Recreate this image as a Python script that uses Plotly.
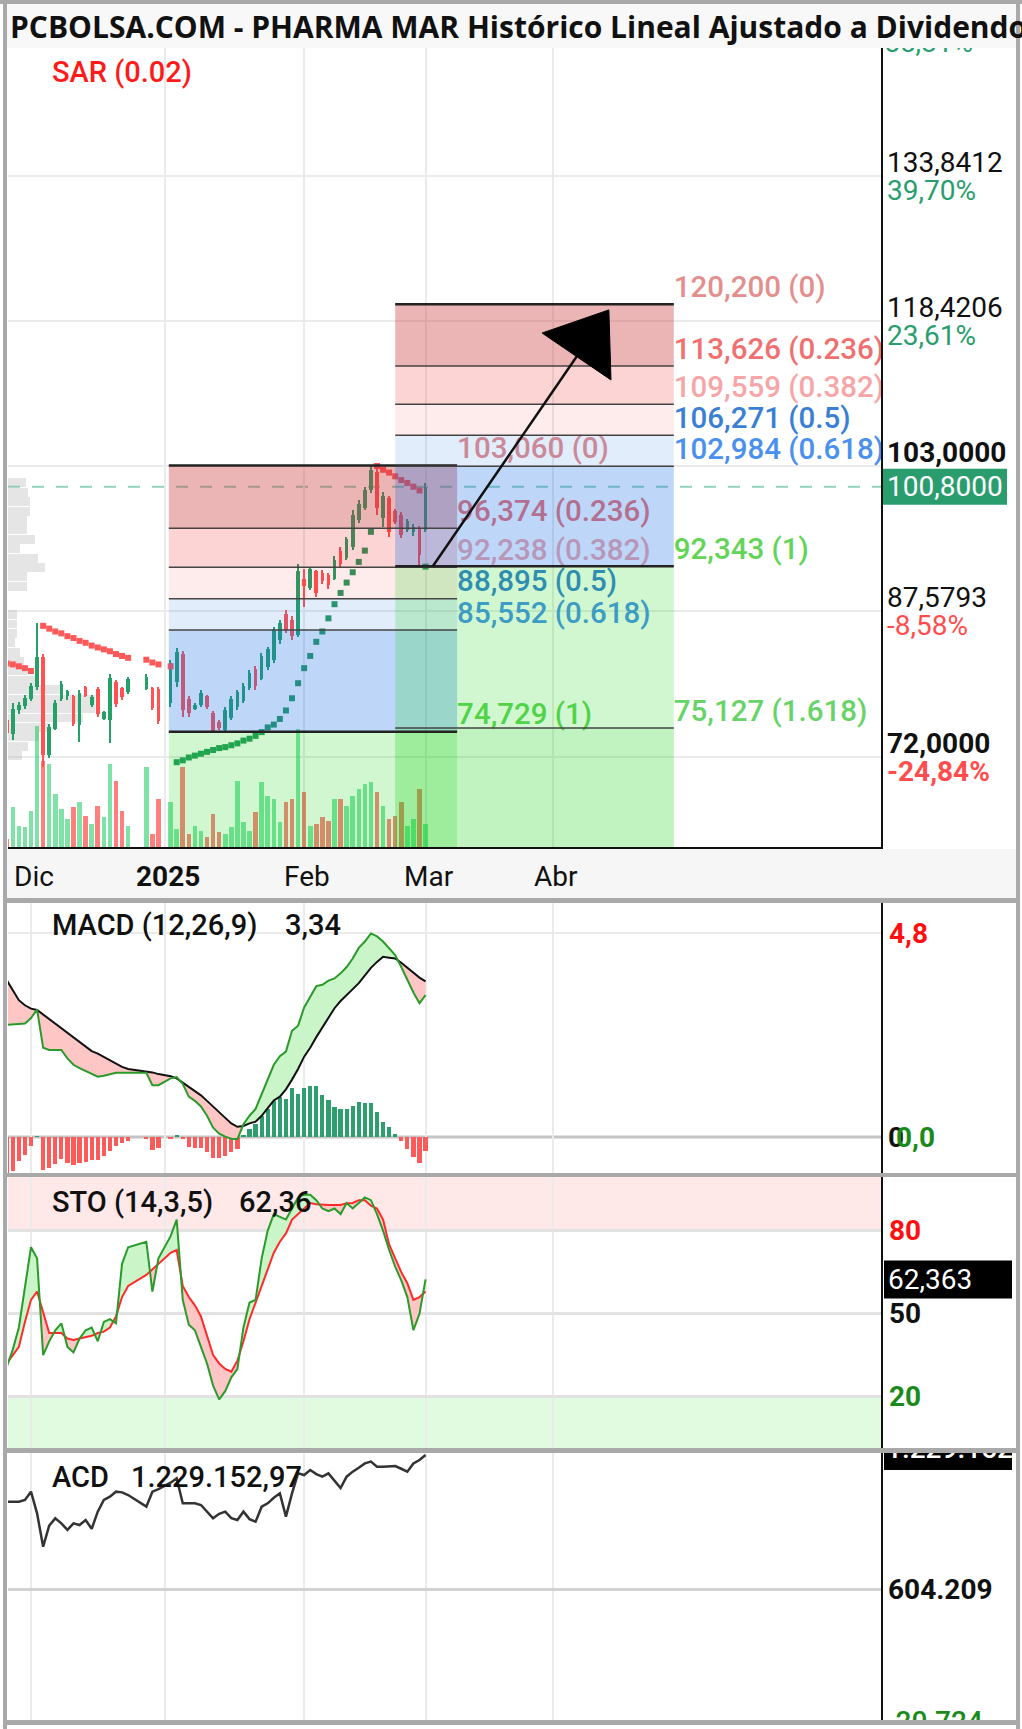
import plotly.graph_objects as go

W, H = 1022, 1729

TITLE = "PCBOLSA.COM - PHARMA MAR Histórico Lineal Ajustado a Dividendos"

# ------------------------------------------------------------------ data
# weekday slots, 0 = 2 Dec 2024 (17, 18, 22 = market holidays)
IDX = list(range(-4, 17)) + [19, 20, 21] + list(range(23, 66))

OPEN = [76.0, 74.5, 77.0, 77.5, 78.2, 79.5, 82.7, 72.3, 75.0, 78.2,
        78.5, 78.5, 75.5, 79.5, 77.6, 79.3, 76.1, 76.0, 80.0, 79.4,
        79.0, 79.3, 79.4, 79.3, 77.8, 80.0, 83.0, 78.2, 77.2, 77.6,
        78.5, 76.7, 75.8, 74.9, 76.2, 77.4, 78.0, 79.4, 81.4, 80.4,
        81.6, 82.4, 84.5, 87.3, 86.6, 85.0, 91.0, 90.0, 91.8, 91.6,
        91.4, 91.0, 94.0, 93.2, 94.4, 97.3, 98.5, 100.4, 102.4, 97.5,
        99.6, 98.2, 97.8, 96.2, 96.0, 96.4, 96.2]
HIGH = [76.2, 77.8, 77.9, 78.6, 79.9, 86.3, 83.0, 75.6, 78.1, 80.1,
        79.2, 78.6, 79.2, 79.6, 78.6, 79.5, 76.9, 80.9, 80.2, 79.5,
        80.6, 80.9, 79.5, 79.5, 82.4, 83.6, 83.3, 78.5, 77.8, 79.2,
        78.6, 76.9, 76.0, 77.4, 78.5, 79.2, 79.9, 81.3, 81.7, 83.1,
        83.8, 85.9, 86.6, 87.7, 87.0, 92.6, 92.0, 92.3, 91.9, 91.9,
        91.6, 93.4, 94.4, 95.5, 98.3, 99.4, 100.8, 103.06, 102.7, 100.2,
        99.8, 98.4, 98.1, 97.4, 96.8, 96.6, 101.2]
LOW = [74.2, 73.9, 76.6, 77.2, 78.0, 79.2, 71.0, 71.9, 74.9, 78.0,
       78.1, 75.3, 73.7, 78.4, 77.4, 76.3, 76.0, 73.5, 77.4, 78.1,
       78.8, 79.2, 77.0, 75.6, 77.4, 79.5, 76.3, 76.3, 77.0, 77.4,
       77.2, 74.729, 74.9, 74.8, 76.0, 77.1, 77.8, 79.2, 79.2, 80.2,
       81.3, 82.0, 84.1, 85.2, 84.5, 84.8, 88.0, 89.8, 89.1, 90.5,
       89.9, 90.9, 92.3, 93.0, 94.1, 96.9, 98.3, 100.1, 97.8, 96.5,
       95.5, 96.8, 95.3, 96.0, 95.6, 92.343, 96.0]
CLOSE = [74.6, 77.2, 77.6, 78.3, 79.6, 82.7, 72.3, 75.2, 77.8, 79.8,
         79.1, 75.6, 78.9, 78.5, 78.4, 76.6, 76.8, 80.5, 77.7, 78.4,
         80.4, 80.6, 77.3, 75.9, 82.0, 83.2, 77.0, 76.7, 77.6, 78.9,
         77.4, 74.8, 75.1, 77.1, 78.2, 79.0, 79.6, 81.0, 79.6, 82.8,
         83.5, 85.6, 86.3, 85.6, 84.9, 91.8, 90.2, 92.0, 89.5, 90.8,
         90.3, 93.0, 92.6, 95.2, 97.8, 99.0, 100.5, 102.6, 98.5, 99.8,
         96.0, 97.0, 95.7, 97.2, 96.5, 93.5, 100.8]
VOLUME_K = [100, 420, 230, 220, 380, 1230, 880, 850, 550, 400,
            300, 420, 470, 330, 250, 430, 320, 850, 680, 380,
            230, 820, 150, 500, 470, 200, 820, 150, 230, 180,
            120, 350, 170, 150, 220, 680, 270, 180, 370, 670,
            530, 500, 270, 470, 500, 1200, 570, 230, 250, 320,
            280, 500, 500, 430, 530, 600, 650, 670, 570, 430,
            300, 330, 470, 230, 300, 600, 250]
SAR = [82.0, 81.9, 81.7, 81.5, 81.2, None, 86.0, 85.7, 85.4, 85.2,
       84.9, 84.7, 84.4, 84.2, 83.9, 83.7, 83.5, 83.3, 83.0, 82.8,
       82.6, 82.4, 82.1, 81.9, 81.7, 71.5, 71.7, 72.0, 72.2, 72.4,
       72.6, 72.8, 73.0, 73.1, 73.3, 73.5, 73.8, 74.0, 74.3, 74.7,
       75.2, 75.5, 76.1, 77.0, 78.3, 79.9, 81.5, 82.8, 84.3, 85.4,
       86.8, 88.3, 89.5, 90.6, 91.7, 92.8, 94.0, 96.0, 103.0, 102.6,
       102.3, 101.9, 101.5, 101.2, 100.8, 100.4, 92.3]
MACD = [2.64, 2.65, 2.66, 2.67, 2.80, 3.00, 2.10, 2.05, 2.05, 2.05,
        1.85, 1.70, 1.62, 1.55, 1.48, 1.42, 1.44, 1.47, 1.51, 1.51,
        1.51, 1.51, 1.22, 1.22, 1.38, 1.41, 1.25, 0.95, 0.85, 0.72,
        0.50, 0.22, 0.08, 0.01, -0.04, -0.05, 0.30, 0.50, 0.66, 1.00,
        1.34, 1.70, 1.90, 2.01, 2.50, 2.62, 3.05, 3.30, 3.55, 3.58,
        3.68, 3.73, 3.85, 4.00, 4.20, 4.45, 4.60, 4.79, 4.72, 4.60,
        4.45, 4.28, 4.00, 3.70, 3.40, 3.15, 3.34]
SIGNAL = [3.69, 3.45, 3.22, 3.10, 3.02, 2.99, 2.88, 2.78, 2.68, 2.56,
          2.46, 2.35, 2.24, 2.13, 2.02, 1.96, 1.88, 1.80, 1.72, 1.65,
          1.60, 1.54, 1.52, 1.48, 1.43, 1.38, 1.28, 1.18, 1.10, 0.98,
          0.85, 0.71, 0.58, 0.45, 0.32, 0.24, 0.26, 0.32, 0.36, 0.50,
          0.68, 0.86, 0.95, 1.12, 1.35, 1.60, 1.89, 2.10, 2.35, 2.58,
          2.80, 3.03, 3.20, 3.35, 3.48, 3.62, 3.80, 3.98, 4.12, 4.24,
          4.22, 4.20, 4.10, 3.98, 3.86, 3.75, 3.66]
STO_K = [30.8, 37, 45, 60, 74, 70, 35, 40, 44, 46.5,
         38, 36, 41, 44, 45, 40, 47, 48, 46.5, 68,
         74, 76, 58, 70, 78, 84, 55, 46, 44, 38,
         32, 24, 19, 22, 27, 30, 45, 54, 55, 70,
         80, 86, 85, 84, 88, 92, 93, 93, 91, 88,
         87, 88, 86, 90, 88, 90, 92, 91, 86, 80,
         73, 67, 62, 56, 44, 50, 62.363]
STO_D = [32, 35, 38, 47, 55, 58, 50, 43, 43, 43,
         41, 40.5, 41, 41.5, 42, 43, 43.5, 45, 49, 56,
         60, 64, 66, 68, 72, 73, 60, 56, 53, 49,
         42, 35, 32, 30, 29, 33, 40, 48, 54, 60,
         66, 72, 76, 79, 84, 86, 88, 90, 89.5, 89.3,
         89.3, 89.3, 89.3, 89.9, 90, 91, 91, 89, 88, 84,
         75, 70, 65, 61, 55, 56, 58]
ACD = [1011500, 1011500, 1011500, 1019300, 1058200, 957100, 801600, 900000, 933800, 910500,
       880000, 910500, 902700, 926000, 885000, 964900, 1019300, 1035000, 1058200, 1055000,
       1042600, 988200, 1058200, 1070000, 1100000, 1120400, 1003800, 1003800, 1003800, 996000,
       965000, 933800, 955000, 964900, 935000, 926000, 964900, 930000, 918200, 988200,
       1003800, 1030000, 1050400, 941600, 1050000, 1143700, 1135900, 1159200, 1140000, 1128100,
       1143700, 1110000, 1075000, 1128100, 1151500, 1170000, 1190000, 1198100, 1174800, 1174800,
       1174800, 1177900, 1165000, 1151500, 1190000, 1205900, 1229152.97]

PROFILE_PRICE = [101.2, 100.2, 99.2, 98.2, 97.2, 96.2, 95.2, 94.2, 93.2, 92.2, 91.2, 90.2,
                 87.2, 86.2, 85.2, 84.2, 83.2, 82.2, 81.2, 80.2, 79.2, 78.2, 77.2, 76.2,
                 75.2, 74.2, 73.2, 72.2]
PROFILE_VOL = [18, 20, 22, 22, 19, 19, 27, 12, 30, 37, 19, 19,
               9, 9, 9, 7, 12, 16, 20, 31, 55, 87, 87, 75,
               40, 31, 20, 14]

TICK_IDX = [0, 22, 45, 65, 86]
TICK_TEXT = ["Dic", "2025", "Feb", "Mar", "Abr"]

PRICE_GRID = [72.0, 87.5793, 103.0, 118.4206, 133.8412, 149.2618]
PRICE_TXT = ["72,0000", "87,5793", "103,0000", "118,4206", "133,8412", None]
PCT_TXT = ["-24,84%", "-8,58%", None, "23,61%", "39,70%", "55,81%"]
LAST_PRICE = 100.80

FIB_A_LEVELS = [103.060, 96.374, 92.238, 88.895, 85.552, 74.729]
FIB_A_RATIOS = ["0", "0.236", "0.382", "0.5", "0.618", "1"]
FIB_A_SPAN = [22.7, 70.2]
FIB_B_LEVELS = [120.200, 113.626, 109.559, 106.271, 102.984, 92.343, 75.127]
FIB_B_RATIOS = ["0", "0.236", "0.382", "0.5", "0.618", "1", "1.618"]
FIB_B_SPAN = [60.0, 105.9]

ARROW_START = (66.2, 92.343)
ARROW_NECK = (89.9, 114.65)
ARROW_HEAD = [(95.2, 119.6), (84.2, 117.14), (95.55, 112.15)]

MACD_LAST, STO_LAST, ACD_LAST = "3,34", "62,36", "1.229.152,97"

# ------------------------------------------------------------------ geometry (px)
PLOT_L, PLOT_R, COL_R = 8, 882, 1016
IDX0_PX, PX_PER_IDX = 31.0, 6.07
X_RANGE = [(PLOT_L - IDX0_PX) / PX_PER_IDX, (PLOT_R - IDX0_PX) / PX_PER_IDX]

MAIN_T, MAIN_B = 48, 849
P_REF, P_REF_PX, PX_PER_P = 103.0, 466.0, 9.403
P_RANGE = [P_REF - (MAIN_B - P_REF_PX) / PX_PER_P, P_REF + (P_REF_PX - MAIN_T) / PX_PER_P]
P_BOT = P_RANGE[0]
VOL_PX_PER_K = 0.1

MACD_T, MACD_B = 903, 1173
M_ZERO_PX, PX_PER_M = 1137.0, 42.5
MACD_RANGE = [-(MACD_B - M_ZERO_PX) / PX_PER_M, (M_ZERO_PX - MACD_T) / PX_PER_M]

STO_T, STO_B = 1177, 1448
S_ZERO_PX, PX_PER_S = 1452.0, 2.767
STO_RANGE = [(S_ZERO_PX - STO_B) / PX_PER_S, (S_ZERO_PX - STO_T) / PX_PER_S]

ACD_T, ACD_B = 1453, 1720
A_REF, A_REF_PX, A_PER_PX = 604209.0, 1589.0, 4664.0
ACD_RANGE = [A_REF - (ACD_B - A_REF_PX) * A_PER_PX, A_REF + (A_REF_PX - ACD_T) * A_PER_PX]

FONT = "Roboto"
UP, DN = "#26a069", "#ff5252"
ROSE, PINK, LPINK = "rgba(200,50,50,0.36)", "rgba(240,0,0,0.17)", "rgba(240,0,0,0.08)"
LBLUE, BLUE = "rgba(20,110,230,0.12)", "rgba(20,110,230,0.28)"
GREEN, GREEN2 = "rgba(0,210,0,0.18)", "rgba(0,210,0,0.08)"
FIB_COL = {"0": "#e58e8e", "0.236": "#f07070", "0.382": "#f6a6a6", "0.5": "#3a7fd6",
           "0.618": "#4a90ee", "1": "#62d456", "1.618": "#66d466"}


def pxx(px):
    return px / W


def pxy(py):
    return 1 - py / H


def dom_y(top, bot):
    return [1 - bot / H, 1 - top / H]


def fmt(v, nd):
    return f"{v:.{nd}f}".replace(".", ",")


fig = go.Figure()

# ---------------- main price panel
fig.add_trace(go.Bar(orientation="h", y=PROFILE_PRICE, x=[v / PX_PER_IDX for v in PROFILE_VOL],
                     base=X_RANGE[0], width=0.95, marker=dict(color="rgba(170,170,170,0.30)", line_width=0),
                     xaxis="x", yaxis="y", hoverinfo="skip"))
up = [c >= o for o, c in zip(OPEN, CLOSE)]
fig.add_trace(go.Bar(x=IDX, y=[v * VOL_PX_PER_K / PX_PER_P for v in VOLUME_K], base=P_BOT, width=0.75,
                     marker=dict(color=["rgba(0,200,80,0.5)" if u else "rgba(255,0,0,0.5)" for u in up], line_width=0),
                     xaxis="x", yaxis="y", hoverinfo="skip"))
fig.add_trace(go.Bar(x=IDX, y=[h - l for h, l in zip(HIGH, LOW)], base=LOW, width=0.22,
                     marker=dict(color=[UP if u else DN for u in up], line_width=0), xaxis="x", yaxis="y",
                     hoverinfo="skip"))
fig.add_trace(go.Bar(x=IDX, y=[max(abs(c - o), 0.15) for o, c in zip(OPEN, CLOSE)],
                     base=[min(o, c) for o, c in zip(OPEN, CLOSE)], width=0.6,
                     marker=dict(color=[UP if u else DN for u in up], line_width=0), xaxis="x", yaxis="y",
                     hoverinfo="skip"))
fig.add_trace(go.Scatter(x=IDX, y=SAR, mode="markers", xaxis="x", yaxis="y", hoverinfo="skip",
                         marker=dict(symbol="square", size=6, line_width=0,
                                     color=["#2a9a60" if (s is not None and s < l) else "#ff5858"
                                            for s, l in zip(SAR, LOW)])))
for levels, ratios, span in ((FIB_A_LEVELS, FIB_A_RATIOS, FIB_A_SPAN), (FIB_B_LEVELS, FIB_B_RATIOS, FIB_B_SPAN)):
    fig.add_trace(go.Scatter(x=[span[1]] * len(levels), y=levels, mode="text",
                             text=[f"{fmt(v, 3)} ({r})" for v, r in zip(levels, ratios)],
                             textposition="top right", xaxis="x", yaxis="y", hoverinfo="skip",
                             textfont=dict(family=FONT, size=29.5, color=[FIB_COL[r] for r in ratios], weight=500)))


# ---------------- fill helper
def fill_between(xs, a, b, xa, ya, pos_col, neg_col):
    px_, py_, nx_, ny_ = [], [], [], []
    for k in range(len(xs) - 1):
        x0, x1 = xs[k], xs[k + 1]
        d0, d1 = a[k] - b[k], a[k + 1] - b[k + 1]
        if d0 * d1 < 0:
            t = d0 / (d0 - d1)
            xc = x0 + t * (x1 - x0)
            yc = a[k] + t * (a[k + 1] - a[k])
            tx, ty = (px_, py_) if d0 > 0 else (nx_, ny_)
            tx += [x0, xc, x0, x0, None]
            ty += [a[k], yc, b[k], a[k], None]
            tx, ty = (px_, py_) if d1 > 0 else (nx_, ny_)
            tx += [xc, x1, x1, xc, None]
            ty += [yc, a[k + 1], b[k + 1], yc, None]
        else:
            tx, ty = (px_, py_) if (d0 + d1) >= 0 else (nx_, ny_)
            tx += [x0, x1, x1, x0, x0, None]
            ty += [a[k], a[k + 1], b[k + 1], b[k], a[k], None]
    out = []
    for xx, yy, col in ((px_, py_, pos_col), (nx_, ny_, neg_col)):
        out.append(go.Scatter(x=xx, y=yy, mode="lines", fill="toself", fillcolor=col, line=dict(width=0),
                              xaxis=xa, yaxis=ya, hoverinfo="skip", connectgaps=False))
    return out


# ---------------- MACD
for tr in fill_between(IDX, MACD, SIGNAL, "x3", "y3", "#c9f5c9", "#ffc6c6"):
    fig.add_trace(tr)
hist = [m - s for m, s in zip(MACD, SIGNAL)]
fig.add_trace(go.Bar(x=IDX, y=hist, width=0.7, xaxis="x3", yaxis="y3", hoverinfo="skip",
                     marker=dict(color=["#2e9e6e" if h >= 0 else "#ff5a5a" for h in hist], line_width=0)))
fig.add_trace(go.Scatter(x=IDX, y=SIGNAL, mode="lines", line=dict(color="#111", width=2), xaxis="x3", yaxis="y3",
                         hoverinfo="skip"))
fig.add_trace(go.Scatter(x=IDX, y=MACD, mode="lines", line=dict(color="#2a9a2a", width=2), xaxis="x3", yaxis="y3",
                         hoverinfo="skip"))

# ---------------- STO
for tr in fill_between(IDX, STO_K, STO_D, "x4", "y4", "#c9f5c9", "#ffc6c6"):
    fig.add_trace(tr)
fig.add_trace(go.Scatter(x=IDX, y=STO_D, mode="lines", line=dict(color="#ff2a2a", width=2), xaxis="x4", yaxis="y4",
                         hoverinfo="skip"))
fig.add_trace(go.Scatter(x=IDX, y=STO_K, mode="lines", line=dict(color="#2a9a2a", width=2), xaxis="x4", yaxis="y4",
                         hoverinfo="skip"))

# ---------------- ACD
fig.add_trace(go.Scatter(x=IDX, y=ACD, mode="lines", line=dict(color="#333", width=2.5), xaxis="x5", yaxis="y5",
                         hoverinfo="skip"))

# ---------------- clipped right-column texts (pixel axes)
top_pct_px = P_REF_PX - (PRICE_GRID[-1] - P_REF) * PX_PER_P + 14
fig.add_trace(go.Scatter(x=[884], y=[top_pct_px], mode="text", text=[PCT_TXT[-1]], textposition="middle right",
                         textfont=dict(family=FONT, size=28, color="#2a9d6e"), xaxis="x6", yaxis="y6",
                         hoverinfo="skip"))
fig.add_trace(go.Scatter(x=[886, 886], y=[1451, 1724], mode="text", text=["1.229.152", "-20.724"],
                         textposition="middle right",
                         textfont=dict(family=FONT, size=28, color=["#ffffff", "#1a8a1a"], weight=500),
                         xaxis="x7", yaxis="y7", hoverinfo="skip"))

# ------------------------------------------------------------------ shapes
shapes = []


def prect(x0, y0, x1, y1, color, layer="above"):
    shapes.append(dict(type="rect", xref="paper", yref="paper", x0=pxx(x0), x1=pxx(x1), y0=pxy(y0), y1=pxy(y1),
                       fillcolor=color, line_width=0, layer=layer))


prect(5, 4, COL_R, MAIN_T, "#f8f8f8", "below")
prect(5, MAIN_B, COL_R, 898, "#f6f6f6", "below")

# STO bands and reference lines
shapes.append(dict(type="rect", xref="x4", yref="y4", x0=X_RANGE[0], x1=X_RANGE[1], y0=80, y1=STO_RANGE[1],
                   fillcolor="#ffe8e8", line_width=0, layer="below"))
shapes.append(dict(type="rect", xref="x4", yref="y4", x0=X_RANGE[0], x1=X_RANGE[1], y0=STO_RANGE[0], y1=20,
                   fillcolor="#e0fbe0", line_width=0, layer="below"))
shapes.append(dict(type="line", xref="x3", yref="y3", x0=X_RANGE[0], x1=X_RANGE[1], y0=0, y1=0,
                   line=dict(color="#c4c4c4", width=3), layer="below"))
# last price dashed line
shapes.append(dict(type="line", xref="x", yref="y", x0=X_RANGE[0], x1=X_RANGE[1], y0=LAST_PRICE, y1=LAST_PRICE,
                   line=dict(color="#92d1bb", width=2, dash="12px,12px"), layer="below"))


# Fibonacci boxes
def fib_box(levels, span, band_cols, below_cols):
    for k, col in enumerate(band_cols):
        shapes.append(dict(type="rect", xref="x", yref="y", x0=span[0], x1=span[1], y0=levels[k + 1], y1=levels[k],
                           fillcolor=col, line_width=0, layer="above"))
    for lvl, col in below_cols:
        shapes.append(dict(type="rect", xref="x", yref="y", x0=span[0], x1=span[1], y0=P_BOT, y1=lvl,
                           fillcolor=col, line_width=0, layer="above"))


fib_box(FIB_A_LEVELS, FIB_A_SPAN, [ROSE, PINK, LPINK, LBLUE, BLUE], [(FIB_A_LEVELS[-1], GREEN)])
fib_box(FIB_B_LEVELS, FIB_B_SPAN, [ROSE, PINK, LPINK, LBLUE, BLUE],
        [(FIB_B_LEVELS[5], GREEN), (FIB_B_LEVELS[6], GREEN2)])
for levels, ratios, span in ((FIB_A_LEVELS, FIB_A_RATIOS, FIB_A_SPAN), (FIB_B_LEVELS, FIB_B_RATIOS, FIB_B_SPAN)):
    for v, r in zip(levels, ratios):
        heavy = r in ("0", "1")
        shapes.append(dict(type="line", xref="x", yref="y", x0=span[0], x1=span[1], y0=v, y1=v,
                           line=dict(color="#222" if heavy else "#444", width=2.5 if heavy else 1.5),
                           layer="above"))
# arrow
shapes.append(dict(type="line", xref="x", yref="y", x0=ARROW_START[0], y0=ARROW_START[1], x1=ARROW_NECK[0],
                   y1=ARROW_NECK[1], line=dict(color="#111", width=2.5), layer="above"))
shapes.append(dict(type="path", xref="x", yref="y",
                   path="M {} {} L {} {} L {} {} Z".format(*[c for p in ARROW_HEAD for c in p]),
                   fillcolor="#000", line=dict(color="#000", width=1), layer="above"))

# value boxes
shapes.append(dict(type="rect", xref="paper", yref="y", x0=pxx(881), x1=pxx(1007), ysizemode="pixel",
                   yanchor=LAST_PRICE, y0=-18, y1=18, fillcolor="#2a9d6f", line_width=0, layer="above"))
shapes.append(dict(type="rect", xref="paper", yref="y4", x0=pxx(884), x1=pxx(1012), ysizemode="pixel",
                   yanchor=float(STO_K[-1]), y0=-19, y1=19, fillcolor="#000", line_width=0, layer="above"))
shapes.append(dict(type="rect", xref="x7", yref="y7", x0=884, x1=1012, y0=1432, y1=1470,
                   fillcolor="#000", line_width=0, layer="below"))

# axis lines
prect(PLOT_L, MAIN_B - 2, PLOT_R, MAIN_B, "#111")
for t, b in ((MAIN_T, MAIN_B), (MACD_T, MACD_B), (STO_T, STO_B), (ACD_T, ACD_B)):
    prect(PLOT_R - 1, t, PLOT_R + 1, b, "#111")
# frame and panel separators
prect(0, 0, W, 4, "#a9a9a9")
prect(3, 0, 7, H, "#a9a9a9")
prect(COL_R, 0, COL_R + 4, H, "#a9a9a9")
for t, b in ((898, 903), (1173, 1177), (1448, 1453), (1720, 1725)):
    prect(3, t, COL_R + 4, b, "#a9a9a9")

# ------------------------------------------------------------------ annotations
anns = []


def ann(text, x, y, size=28, color="#111", weight="normal", xanchor="left", family=FONT, yref="paper", yshift=0,
        xshift=0):
    anns.append(dict(text=text, x=pxx(x), xref="paper", y=(pxy(y) if yref == "paper" else y), yref=yref,
                     xanchor=xanchor, yanchor="middle", showarrow=False, yshift=yshift, xshift=xshift,
                     font=dict(family=family, size=size, color=color, weight=weight)))


ann(TITLE, 8, 26, size=30, weight="bold", family="Open Sans", color="#111")
ann("SAR (0.02)", 50, 72, size=29, color="#ff1a1a", weight=500)
ann("MACD (12,26,9)", 50, 925, size=29, weight=500)
ann(MACD_LAST, 283, 925, size=29, weight=500)
ann("STO (14,3,5)", 50, 1202, size=29, weight=500)
ann(STO_LAST, 237, 1202, size=29, weight=500)
ann("ACD", 50, 1477, size=29, weight=500)
ann(ACD_LAST, 129, 1477, size=29, weight=500)

for i, t in zip(TICK_IDX, TICK_TEXT):
    ann(t, IDX0_PX + i * PX_PER_IDX, 876, size=28, xanchor="center", xshift=3,
        weight=("bold" if t.isdigit() else "normal"))

for lvl, vt, pt in zip(PRICE_GRID, PRICE_TXT, PCT_TXT):
    if lvl > P_RANGE[1]:
        continue
    bold = lvl in (72.0, 103.0)
    if vt:
        ann(vt, 885, lvl, yref="y", yshift=14, weight=("bold" if bold else "normal"))
    if pt:
        ann(pt, 885, lvl, yref="y", yshift=-14, color=("#ff4d4d" if pt.startswith("-") else "#2a9d6e"),
            weight=("bold" if bold else "normal"))
ann(fmt(LAST_PRICE, 4), 885, LAST_PRICE, yref="y", color="#ffffff")

ann("4,8", 887, 4.8, yref="y3", color="#ff1010", weight="bold")
ann("0", 886, 0, yref="y3", color="#111", weight="bold")
ann("0,0", 894, 0, yref="y3", color="#1a8a1a", weight="bold")
ann("80", 887, 80, yref="y4", color="#ff1010", weight="bold")
ann("50", 887, 50, yref="y4", color="#111", weight="bold")
ann("20", 887, 20, yref="y4", color="#1a8a1a", weight="bold")
ann(fmt(float(STO_K[-1]), 3), 886, float(STO_K[-1]), yref="y4", color="#ffffff")
ann("604.209", 886, A_REF, yref="y5", color="#111", weight="bold")

# ------------------------------------------------------------------ layout
grid = dict(showgrid=True, gridcolor="#ebebeb", gridwidth=2, zeroline=False, showticklabels=False, ticks="",
            showline=False, fixedrange=True)
xdom = [pxx(PLOT_L), pxx(PLOT_R)]
cdom = [pxx(PLOT_R), pxx(COL_R)]
layout = dict(
    width=W, height=H, margin=dict(l=0, r=0, t=0, b=0), paper_bgcolor="#ffffff", plot_bgcolor="rgba(0,0,0,0)",
    showlegend=False, barmode="overlay", hovermode=False, bargap=0,
    xaxis=dict(domain=xdom, range=X_RANGE, anchor="y", tickvals=TICK_IDX[1:], **grid),
    yaxis=dict(domain=dom_y(MAIN_T, MAIN_B), range=P_RANGE, anchor="x", tickvals=PRICE_GRID, **grid),
    xaxis3=dict(domain=xdom, range=X_RANGE, anchor="y3", tickvals=TICK_IDX, **grid),
    yaxis3=dict(domain=dom_y(MACD_T, MACD_B), range=MACD_RANGE, anchor="x3", tickvals=[4.8], **grid),
    xaxis4=dict(domain=xdom, range=X_RANGE, anchor="y4", tickvals=TICK_IDX, **grid),
    yaxis4=dict(domain=dom_y(STO_T, STO_B), range=STO_RANGE, anchor="x4", tickvals=[20, 50, 80],
                **{**grid, "gridcolor": "#e2e2e2", "gridwidth": 3}),
    xaxis5=dict(domain=xdom, range=X_RANGE, anchor="y5", tickvals=TICK_IDX, **grid),
    yaxis5=dict(domain=dom_y(ACD_T, ACD_B), range=ACD_RANGE, anchor="x5", tickvals=[A_REF],
                **{**grid, "gridcolor": "#d2d2d2", "gridwidth": 3}),
    xaxis6=dict(domain=cdom, range=[PLOT_R, COL_R], anchor="y6", visible=False, fixedrange=True),
    yaxis6=dict(domain=dom_y(MAIN_T, MAIN_B), range=[MAIN_B, MAIN_T], anchor="x6", visible=False, fixedrange=True),
    xaxis7=dict(domain=cdom, range=[PLOT_R, COL_R], anchor="y7", visible=False, fixedrange=True),
    yaxis7=dict(domain=dom_y(ACD_T, ACD_B), range=[ACD_B, ACD_T], anchor="x7", visible=False, fixedrange=True),
    shapes=shapes, annotations=anns,
)
fig.update_layout(**layout)
fig.write_html("out.html")
